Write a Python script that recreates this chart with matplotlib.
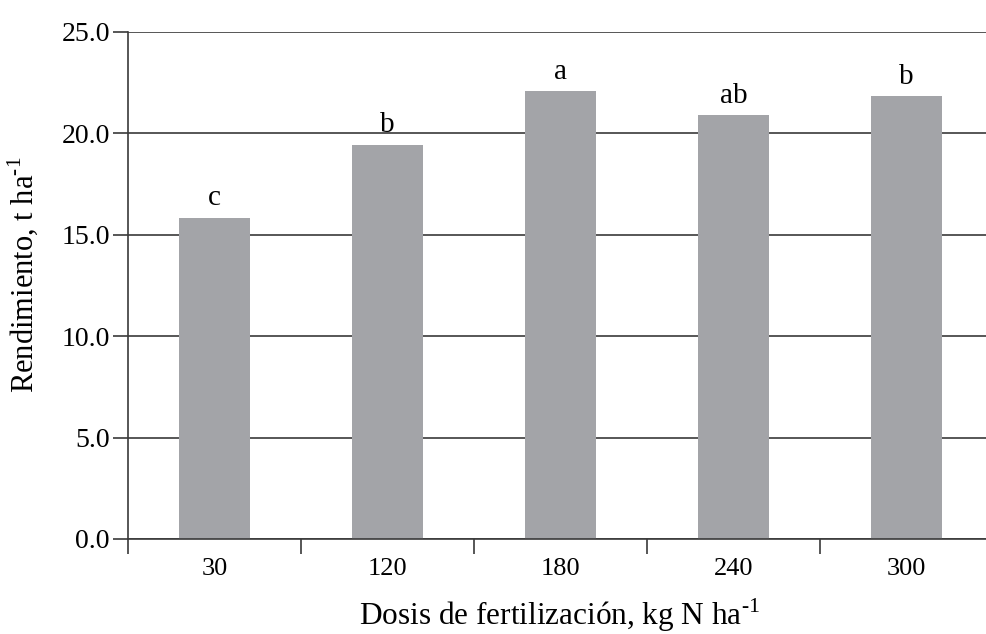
import matplotlib
matplotlib.use('Agg')
import matplotlib.pyplot as plt
import numpy as np

# datos
dosis = ['30', '120', '180', '240', '300']
rendimiento = [15.85, 19.45, 22.1, 20.9, 21.85]
letras = ['c', 'b', 'a', 'ab', 'b']
yticks = [0, 5, 10, 15, 20, 25]

plt.rcParams['font.family'] = 'Liberation Serif'
plt.rcParams['mathtext.fontset'] = 'custom'
plt.rcParams['mathtext.rm'] = 'Liberation Serif'

fig = plt.figure(figsize=(9.87, 6.34), dpi=100)
ax = fig.add_axes([128 / 987, 95 / 634, 865 / 987, 507 / 634])

x = np.arange(len(dosis))
ax.bar(x, rendimiento, width=0.41, color='#a3a4a8', zorder=2)

# letras de significancia
for xi, v, l in zip(x, rendimiento, letras):
    ax.text(xi, v + 0.3, l, ha='center', va='bottom', fontsize=21)

ax.set_xlim(-0.5, len(dosis) - 0.5)
ax.set_ylim(0, 25)

# líneas de la cuadrícula
ax.set_yticks(yticks)
ax.set_yticklabels(['%.1f' % t for t in yticks], fontsize=20)
ax.yaxis.grid(True, color='#3a3a3a', linewidth=1.2, zorder=1)
ax.tick_params(axis='y', length=11, width=1.2, color='#3a3a3a', pad=2)

ax.set_xticks(x)
ax.set_xticklabels(dosis, fontsize=19)
ax.tick_params(axis='x', which='major', length=0, pad=14)
ax.set_xticks(np.arange(-0.5, len(dosis) - 0.5), minor=True)
ax.tick_params(axis='x', which='minor', length=11, width=1.2, color='#3a3a3a')

for s in ['top', 'right']:
    ax.spines[s].set_visible(False)
for s in ['left', 'bottom']:
    ax.spines[s].set_color('#3a3a3a')
    ax.spines[s].set_linewidth(1.2)

# ラベル
ax.set_ylabel(r'Rendimiento, t ha$^{\text{-1}}$', fontsize=22)
ax.yaxis.set_label_coords(-0.102, 0.522)
ax.set_xlabel(r'Dosis de fertilización, kg N ha$^{\text{-1}}$', fontsize=22.5)
ax.xaxis.set_label_coords(0.4994, -0.113)

fig.savefig('out.png', dpi=100)
